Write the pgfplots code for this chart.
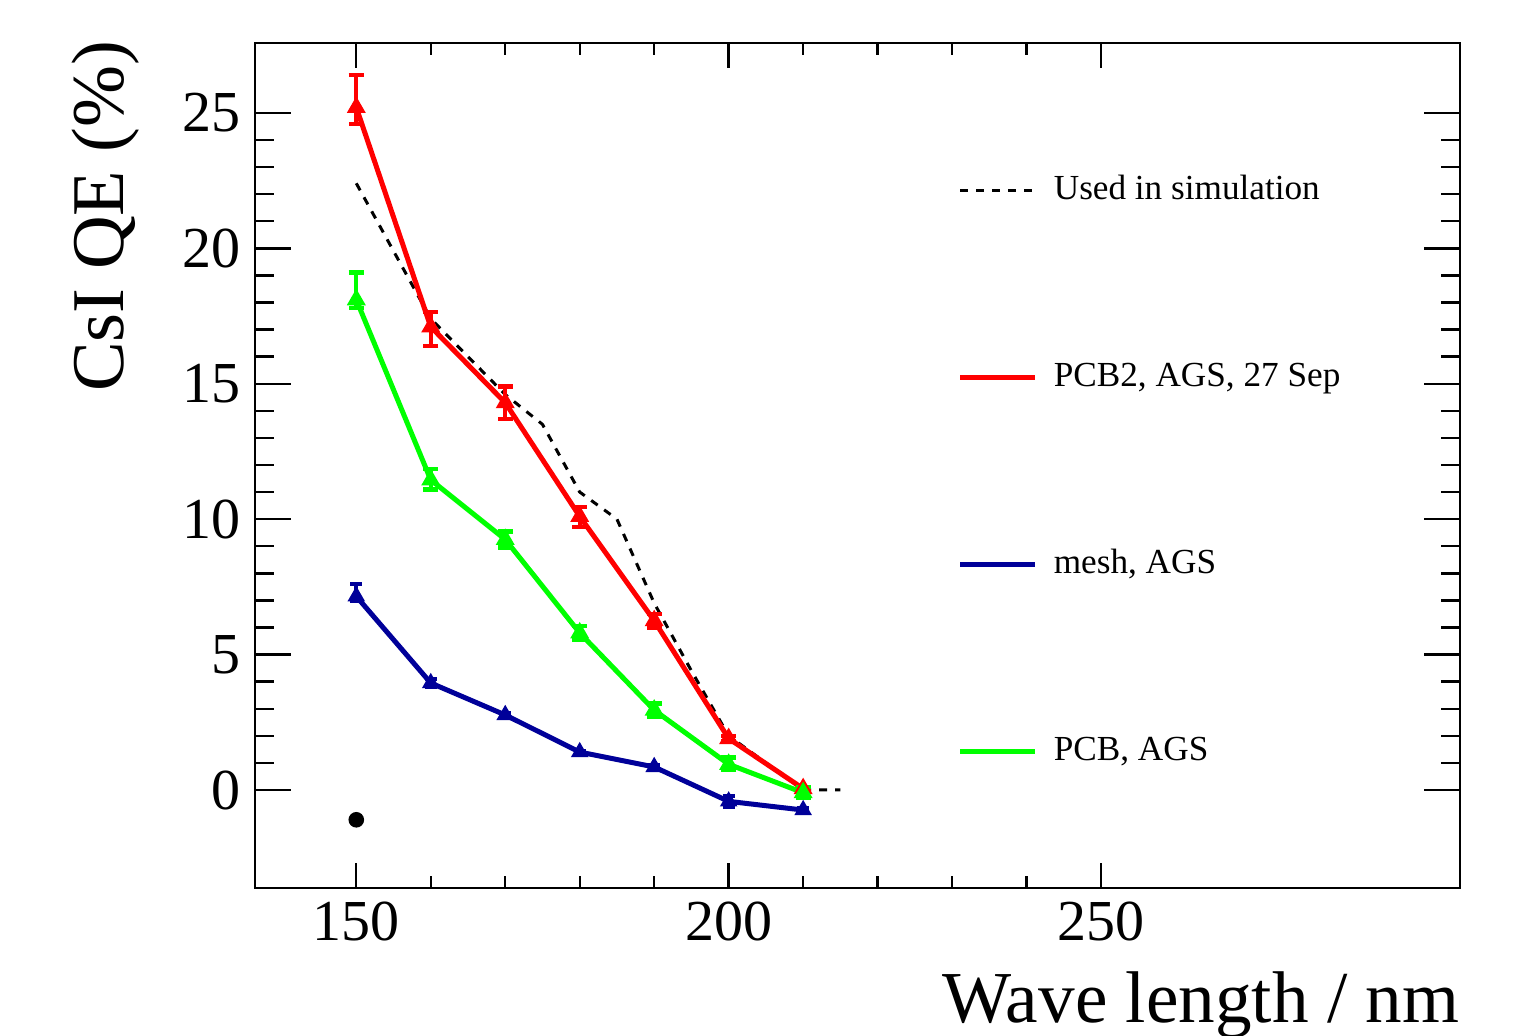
\documentclass[border=0pt]{standalone}
\usepackage{fontspec}
\setmainfont{Liberation Serif}
\usepackage{pgfplots}
\pgfplotsset{compat=1.18}
\definecolor{rootred}{RGB}{255,0,0}
\definecolor{rootgreen}{RGB}{0,255,0}
\definecolor{rootblue}{RGB}{0,0,153}
\begin{document}
\begin{tikzpicture}
\begin{axis}[
  scale only axis, width=301.25pt, height=211.25pt,
  xmin=136.4, xmax=298.2, ymin=-3.62, ymax=27.58,
  xtick={150,200,250}, minor x tick num=4,
  ytick={0,5,10,15,20,25}, minor y tick num=4,
  tick align=inside, tick pos=both,
  major tick length=9pt, minor tick length=4.8pt,
  xtick style={/pgfplots/major tick length=6.25pt,/pgfplots/minor tick length=3pt},
  axis line style={line width=0.7pt},
  tick style={line width=0.6pt, black},
  /pgf/number format/assume math mode=true,
  ticklabel style={font=\fontsize{14.5}{16}\selectfont},
  xlabel={Wave length / nm},
  ylabel={CsI QE (\%)},
  xlabel style={at={(axis description cs:1,-0.1586)}, anchor=base east, inner sep=0pt, font=\fontsize{18.3}{20}\selectfont},
  ylabel style={at={(axis description cs:-0.1095,1.004)}, anchor=base east, inner sep=0pt, rotate=0, font=\fontsize{18.6}{20}\selectfont},
  legend cell align=left,
  legend image code/.code={\draw[#1, mark=none] (0pt,0pt) -- (18.75pt,0pt);},
  legend style={at={(axis description cs:0.5826,0.494)}, anchor=west, draw=none, fill=none, inner sep=0pt,
     font=\fontsize{8.8}{10}\selectfont,
     nodes={inner sep=0pt, text height=6.5pt, text depth=2pt},
     row sep=38.25pt,
     /tikz/every odd column/.append style={column sep=4pt}},
]
\addplot[black, line width=0.75pt, dash pattern=on 2pt off 2pt] coordinates {
 (150,22.4) (155,19.9) (160,17.4) (165,16.0) (170,14.6) (175,13.5) (180,11.0)
 (185,10.0) (190,6.9) (195,4.4) (200,2.0) (205,1.0) (210,0.0) (215,0.0)};
\addlegendentry{Used in simulation}
\addplot[rootred, line width=1.25pt, mark=triangle*, mark size=1.5pt,
  error bars/.cd, y dir=both, y explicit, error bar style={line width=1.1pt},
  error mark options={rotate=90, mark size=1.9pt, line width=1.1pt}] coordinates {
 (150,25.2) += (0,1.2) -= (0,0.6)
 (160,17.1) += (0,0.55) -= (0,0.7)
 (170,14.3) += (0,0.6) -= (0,0.6)
 (180,10.1) += (0,0.35) -= (0,0.4)
 (190,6.25) += (0,0.25) -= (0,0.25)
 (200,1.9) += (0,0.1) -= (0,0.1)
 (210,0.05) += (0,0.05) -= (0,0.05)};
\addlegendentry{PCB2, AGS, 27 Sep}
\addplot[rootblue, line width=1.25pt, mark=triangle*, mark size=1.3pt,
  error bars/.cd, y dir=both, y explicit, error bar style={line width=1.1pt},
  error mark options={rotate=90, mark size=1.5pt, line width=1.1pt}] coordinates {
 (150,7.15) += (0,0.45) -= (0,0.15)
 (160,3.95) += (0,0.15) -= (0,0.15)
 (170,2.77) += (0,0.05) -= (0,0.05)
 (180,1.4) += (0,0.05) -= (0,0.05)
 (190,0.85) += (0,0.05) -= (0,0.05)
 (200,-0.42) += (0,0.2) -= (0,0.2)
 (210,-0.74) += (0,0.05) -= (0,0.05)};
\addlegendentry{mesh, AGS}
\addplot[rootgreen, line width=1.25pt, mark=triangle*, mark size=1.5pt,
  error bars/.cd, y dir=both, y explicit, error bar style={line width=1.1pt},
  error mark options={rotate=90, mark size=1.9pt, line width=1.1pt}] coordinates {
 (150,18.1) += (0,1.0) -= (0,0.3)
 (160,11.45) += (0,0.4) -= (0,0.35)
 (170,9.25) += (0,0.3) -= (0,0.3)
 (180,5.8) += (0,0.25) -= (0,0.25)
 (190,2.95) += (0,0.25) -= (0,0.25)
 (200,0.95) += (0,0.25) -= (0,0.2)
 (210,-0.1) += (0,0.2) -= (0,0.2)};
\addlegendentry{PCB, AGS}
\addplot[black, only marks, mark=*, mark size=1.75pt, forget plot] coordinates {(150,-1.1)};
\end{axis}
\pgfresetboundingbox
\path[use as bounding box] ([shift={(-63.75pt,-36.75pt)}]current axis.south west) rectangle ([shift={(16.25pt,10.75pt)}]current axis.north east);
\end{tikzpicture}
\end{document}
